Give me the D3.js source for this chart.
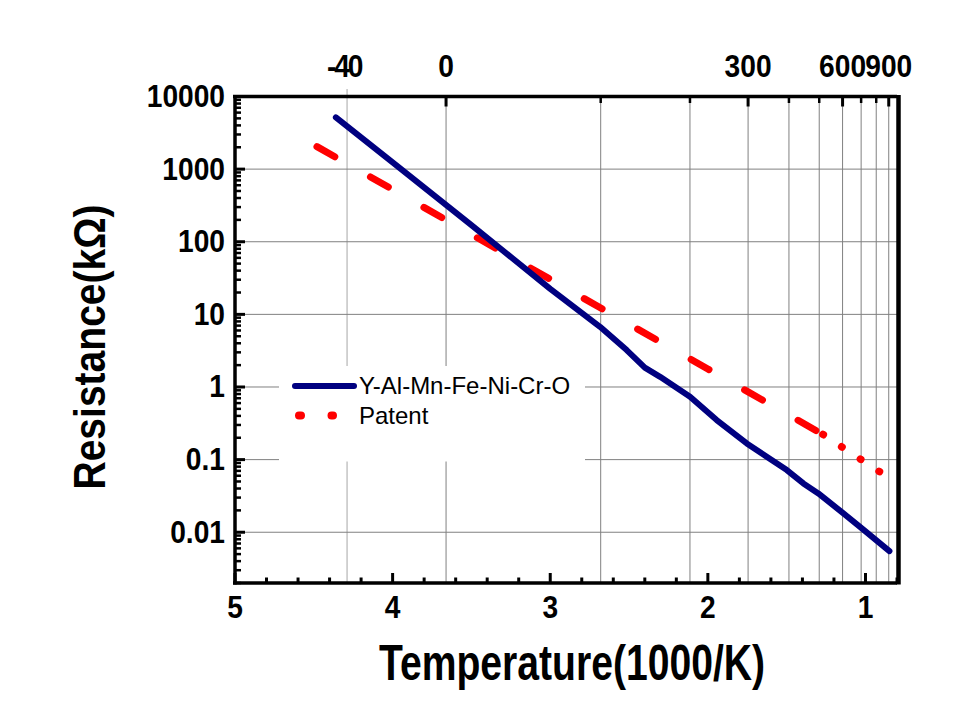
<!DOCTYPE html>
<html>
<head>
<meta charset="utf-8">
<script src="https://cdn.jsdelivr.net/npm/d3@7"></script>
<style>
  body { margin: 0; background: #fff; }
  svg { display: block; font-family: "Liberation Sans", Arial, sans-serif; }
</style>
</head>
<body>
<svg id="chart" width="975" height="711"></svg>
<script>
// ---------- data ----------
const seriesNames = ["Y-Al-Mn-Fe-Ni-Cr-O", "Patent"];
// x = 1000/K, y = resistance in kOhm
const blueX = [4.36, 4.0, 3.5, 3.0, 2.684, 2.515, 2.40, 2.303, 2.113, 1.944, 1.753, 1.499, 1.394, 1.299, 1.140, 1.023, 0.848];
const blueR = [5170, 1236, 169, 22.5, 6.75, 3.22, 1.85, 1.38, 0.733, 0.35, 0.167, 0.0717, 0.047, 0.0342, 0.0182, 0.0113, 0.0055];
const redX = [4.48, 4.0, 3.5, 3.0, 2.5, 2.0, 1.5, 1.27, 0.91];
const redR = [2040, 524, 126, 30.4, 7.33, 1.77, 0.427, 0.222, 0.068];

const bottomTicks = [5, 4, 3, 2, 1];
const bottomMinorTicks = d3.range(48, 7, -2).map(d => d / 10);
const leftTicks = [0.01, 0.1, 1, 10, 100, 1000, 10000];
const leftTickLabels = ["0.01", "0.1", "1", "10", "100", "1000", "10000"];
const topGridTemps = [-40, 0, 100, 200, 300, 400, 500, 600, 700, 800, 900]; // deg C
const topMajorTemps = [0, 300, 600, 900];
const topMinorTemps = [100, 200, 400, 500, 700, 800];
const topLabelTemps = [-40, 0, 300, 600, 900];

const xTitle = "Temperature(1000/K)";
const yTitle = "Resistance(k\u03A9)";

// ---------- layout ----------
const svg = d3.select("#chart");
const L = 235, R = 897, T = 96.5, B = 583;
const x = d3.scaleLinear().domain([5, 0.8]).range([L, R]);
const y = d3.scaleLog().domain([0.002, 10000]).range([B, T]);
const tempToX = t => x(1000 / (t + 273.15));

const gridColor = "#808080";

// grid
const grid = svg.append("g");
grid.selectAll("line.v").data(topGridTemps).join("line")
  .attr("x1", d => tempToX(d)).attr("x2", d => tempToX(d))
  .attr("y1", d => d === -40 ? 89 : T).attr("y2", B)
  .attr("stroke", d => d === -40 ? "#a6a6a6" : gridColor).attr("stroke-width", 1);
grid.selectAll("line.h").data(leftTicks).join("line")
  .attr("x1", L).attr("x2", R)
  .attr("y1", d => y(d)).attr("y2", d => y(d))
  .attr("stroke", gridColor).attr("stroke-width", 1);

// legend background (hides grid)
svg.append("rect").attr("x", 279).attr("y", 366).attr("width", 306).attr("height", 95.5).attr("fill", "#fff");

// series
const line = d3.line().x(d => x(d[0])).y(d => y(d[1]));
const blueData = blueX.map((v, i) => [v, blueR[i]]);
const redData = redX.map((v, i) => [v, redR[i]]);
const tailStart = 7; // from here the dash pattern turns into dots

svg.append("path").datum(redData.slice(0, tailStart + 1)).attr("d", line)
  .attr("fill", "none").attr("stroke", "#ff0000").attr("stroke-width", 7)
  .attr("stroke-linecap", "round").attr("stroke-dasharray", "20.5,41");
svg.append("path").datum(redData.slice(tailStart)).attr("d", line)
  .attr("fill", "none").attr("stroke", "#ff0000").attr("stroke-width", 7.5)
  .attr("stroke-linecap", "round").attr("stroke-dasharray", "0.5,21.9");

svg.append("path").datum(blueData).attr("d", line)
  .attr("fill", "none").attr("stroke", "#000080").attr("stroke-width", 6)
  .attr("stroke-linecap", "round").attr("stroke-linejoin", "round");

// axes frame
const frame = svg.append("g").attr("stroke", "#000").attr("fill", "none");
frame.append("line").attr("x1", L - 2).attr("x2", R).attr("y1", T).attr("y2", T).attr("stroke-width", 3.5);
frame.append("line").attr("x1", L - 2).attr("x2", R).attr("y1", B).attr("y2", B).attr("stroke-width", 3.5);
frame.append("line").attr("x1", L).attr("x2", L).attr("y1", T - 1.5).attr("y2", B + 1.5).attr("stroke-width", 3.5);
frame.append("line").attr("x1", R + 1.5).attr("x2", R + 1.5).attr("y1", T - 1.5).attr("y2", B + 1.5).attr("stroke-width", 4.5);

// bottom ticks (inward)
frame.selectAll("line.bmaj").data(bottomTicks).join("line")
  .attr("x1", d => x(d)).attr("x2", d => x(d)).attr("y1", B).attr("y2", B - 10).attr("stroke-width", 3);
frame.selectAll("line.bmin").data(bottomMinorTicks.filter(d => !bottomTicks.includes(d))).join("line")
  .attr("x1", d => x(d)).attr("x2", d => x(d)).attr("y1", B).attr("y2", B - 5.5).attr("stroke-width", 3);

// left ticks (log)
const leftMinor = [];
for (let e = -3; e < 4; e++) for (let k = 2; k <= 9; k++) {
  const v = k * Math.pow(10, e);
  if (v >= 0.002 && v <= 10000) leftMinor.push(v);
}
frame.selectAll("line.lmaj").data(leftTicks).join("line")
  .attr("x1", L).attr("x2", L + 10).attr("y1", d => y(d)).attr("y2", d => y(d)).attr("stroke-width", 3);
frame.selectAll("line.lmin").data(leftMinor).join("line")
  .attr("x1", L).attr("x2", L + 6).attr("y1", d => y(d)).attr("y2", d => y(d)).attr("stroke-width", 2.5);

// top ticks (temperature)
frame.selectAll("line.tmaj").data(topMajorTemps).join("line")
  .attr("x1", d => tempToX(d)).attr("x2", d => tempToX(d)).attr("y1", T).attr("y2", T + 10).attr("stroke-width", 3);
frame.selectAll("line.tmin").data(topMinorTemps).join("line")
  .attr("x1", d => tempToX(d)).attr("x2", d => tempToX(d)).attr("y1", T).attr("y2", T + 6.5).attr("stroke-width", 2.5);

// tick labels (bold, slightly condensed)
const SX = 0.88, FS = 32;
const lab = svg.append("g").attr("font-weight", "bold").attr("font-size", FS).attr("fill", "#000");
lab.selectAll("text.b").data(bottomTicks).join("text")
  .attr("transform", d => `translate(${x(d)},618) scale(${SX},1)`).attr("text-anchor", "middle").text(d => d);
lab.selectAll("text.l").data(leftTicks).join("text")
  .attr("transform", d => `translate(225,${y(d) + 10.5}) scale(${SX},1)`).attr("text-anchor", "end")
  .text((d, i) => leftTickLabels[i]);
lab.selectAll("text.t").data(topLabelTemps).join("text")
  .attr("transform", d => `translate(${tempToX(d) - (d === -40 ? 3 : 0)},77) scale(${SX},1)`).attr("text-anchor", "middle")
  .attr("letter-spacing", d => d === -40 ? -2.5 : 0).text(d => d);

// axis titles
svg.append("text").attr("x", 572).attr("y", 680).attr("text-anchor", "middle")
  .attr("font-weight", "bold").attr("font-size", 50)
  .attr("textLength", 386).attr("lengthAdjust", "spacingAndGlyphs").text(xTitle);
svg.append("text").attr("transform", "translate(105,347) rotate(-90)").attr("text-anchor", "middle")
  .attr("font-weight", "bold").attr("font-size", 45)
  .attr("textLength", 285).attr("lengthAdjust", "spacingAndGlyphs").text(yTitle);

// legend
const lg = svg.append("g");
lg.append("line").attr("x1", 295).attr("x2", 354).attr("y1", 386).attr("y2", 386)
  .attr("stroke", "#000080").attr("stroke-width", 6).attr("stroke-linecap", "round");
lg.append("line").attr("x1", 299).attr("x2", 333).attr("y1", 415.5).attr("y2", 415.5)
  .attr("stroke", "#ff0000").attr("stroke-width", 8).attr("stroke-linecap", "round")
  .attr("stroke-dasharray", "2,30.5");
lg.append("text").attr("x", 359).attr("y", 394).attr("font-size", 24).text(seriesNames[0]);
lg.append("text").attr("x", 359).attr("y", 424).attr("font-size", 24).text(seriesNames[1]);
</script>
</body>
</html>
